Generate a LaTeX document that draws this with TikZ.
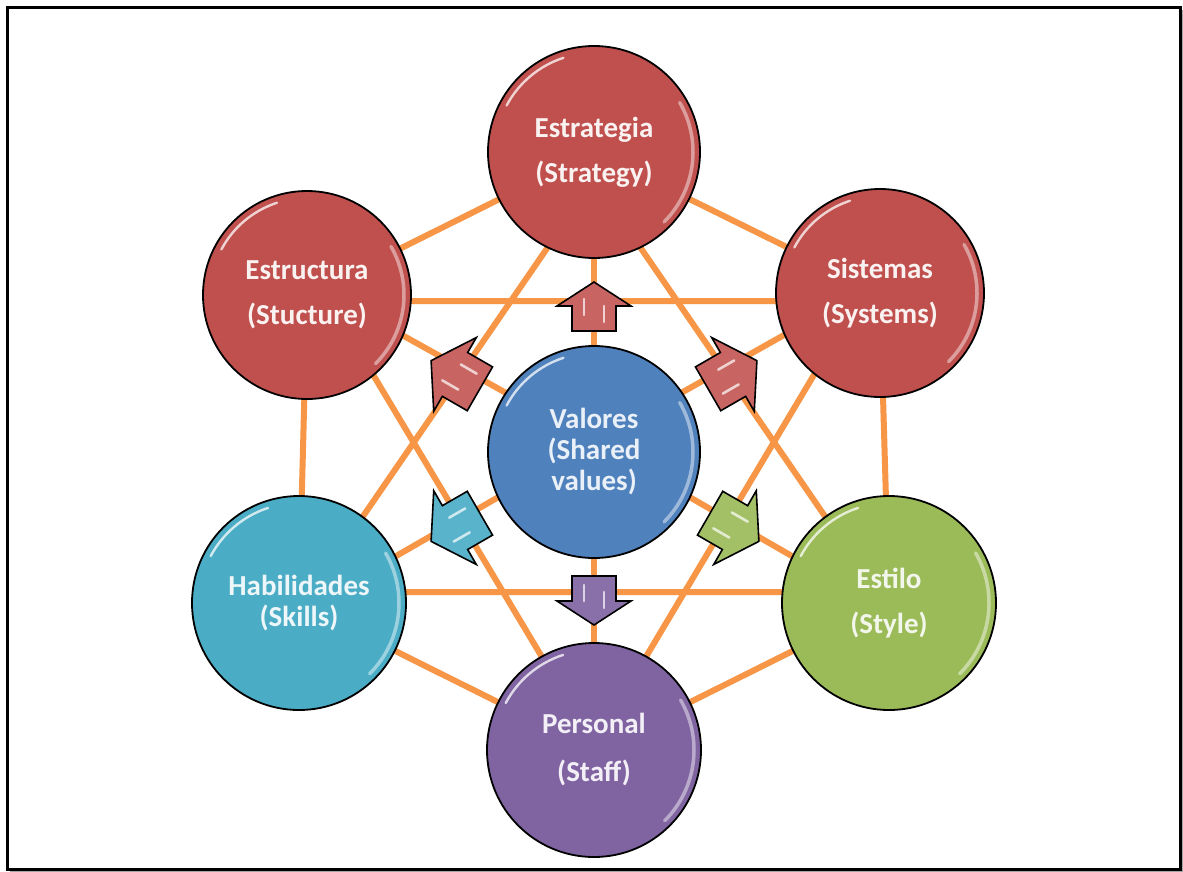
\documentclass[tikz,border=0pt]{standalone}
\usepackage{fontspec}
\setmainfont{Carlito}
\usetikzlibrary{calc}
\definecolor{cred}{HTML}{C0504D}
\definecolor{cblue}{HTML}{4F81BD}
\definecolor{cteal}{HTML}{4BACC6}
\definecolor{cgreen}{HTML}{9BBB59}
\definecolor{cpurple}{HTML}{8064A2}
\definecolor{corange}{HTML}{F79646}
\pgfdeclarelayer{bg}
\pgfsetlayers{bg,main}
\newcommand{\blockarr}[4]{%
  \begin{scope}[shift={#1}, rotate=#2, scale=#4]
    \draw[line width=1.6pt, fill=#3, line join=miter] (-24,-22) -- (1,-22) -- (1,-37) -- (25,0) -- (1,37) -- (1,22) -- (-24,22) -- cycle;
    \draw[white, opacity=.7, line width=2.6pt, line cap=round] (-15,10) -- (1,10) (-8,-10) -- (8,-10);
  \end{scope}}
\begin{document}
\begin{tikzpicture}[x=1pt,y=-1pt,
  bubble/.style={circle, draw=black, line width=1.8pt, inner sep=0pt, align=center,
    font=\fontsize{29}{31}\selectfont\bfseries},
  link/.style={corange, line width=6pt},
  gloss/.style={white, opacity=.75, line width=2.4pt, line cap=round},
  glossb/.style={white, opacity=.45, line width=3.5pt, line cap=round}]
\useasboundingbox (0,0) rectangle (1183,871);

% circles
\node[bubble, fill=cred,    text=white!92!cred,    minimum size=212pt] (strat)  at (594,152) {Estrategia\\[14pt](Strategy)};
\node[bubble, fill=cred,    text=white!92!cred,    minimum size=208pt] (struct) at (307,295) {Estructura\\[14pt](Stucture)};
\node[bubble, fill=cred,    text=white!92!cred,    minimum size=208pt] (sys)    at (880,293) {Sistemas\\[14pt](Systems)};
\node[bubble, fill=cblue,   text=white!88!cblue,   minimum size=212pt] (val)    at (594,452) {Valores\\(Shared\\values)};
\node[bubble, fill=cteal,   text=white!90!cteal,   minimum size=214pt] (skills) at (299,603) {Habilidades\\(Skills)};
\node[bubble, fill=cgreen,  text=white!88!cgreen,  minimum size=214pt] (style)  at (889,603) {Estilo\\[14pt](Style)};
\node[bubble, fill=cpurple, text=white!90!cpurple, minimum size=214pt] (staff)  at (594,750) {Personal\\[17pt](Staff)};

% glossy rims
\foreach \n/\r in {strat/106,struct/104,sys/104,val/106,skills/107,style/107,staff/107}{
  \pgfmathsetmacro\rr{\r-7}
  \draw[gloss] ([shift={(-108:\rr)}]\n.center) arc[start angle=-108, end angle=-152, radius=\rr];
  \draw[glossb] ([shift={(45:\rr)}]\n.center) arc[start angle=45, end angle=-30, radius=\rr];
}

% connectors (behind)
\begin{pgfonlayer}{bg}
  \fill[white] (0,0) rectangle (1183,871);
  \draw[black!35, line width=2pt] (10,871) -- (1183,871) -- (1183,10);
  \draw[line width=3pt] (7,7) rectangle (1180,869);
  % hexagon
  \draw[link] (strat.center) -- (struct.center);
  \draw[link] (struct.center) -- (skills.center);
  \draw[link] (skills.center) -- (staff.center);
  \draw[link] (staff.center) -- (style.center);
  \draw[link] (style.center) -- (sys.center);
  \draw[link] (sys.center) -- (strat.center);
  % triangles
  \draw[link] ($(strat.center)+(0,28)$) -- ($(skills.center)+(12,-11)$) -- ($(style.center)+(-12,-11)$) -- cycle;
  \draw[link] ($(struct.center)+(22,6)$) -- ($(sys.center)+(-22,8)$) -- ($(staff.center)+(0,-6)$) -- cycle;
  % spokes
  \draw[link] (strat.center) -- (val.center);
  \draw[link] (val.center) -- (staff.center);
  \draw[link] ($(val.center)+(0,-10)$) -- ($(struct.center)+(0,-13)$);
  \draw[link] ($(val.center)+(0,-10)$) -- ($(sys.center)+(0,-12)$);
  \draw[link] ($(val.center)+(0,-10)$) -- ($(skills.center)+(0,9)$);
  \draw[link] ($(val.center)+(0,-10)$) -- ($(style.center)+(0,9)$);
\end{pgfonlayer}

% block arrows
\blockarr{(594,307)}{90}{cred!88!white}{1}
\blockarr{(456,375)}{150}{cred!88!white}{1.15}
\blockarr{(732,375)}{30}{cred!88!white}{1.15}
\blockarr{(456,527)}{210}{cteal!92!white}{1.15}
\blockarr{(734,527)}{-30}{cgreen!92!white}{1.15}
\blockarr{(594,600)}{-90}{cpurple!92!white}{1}
\end{tikzpicture}
\end{document}
